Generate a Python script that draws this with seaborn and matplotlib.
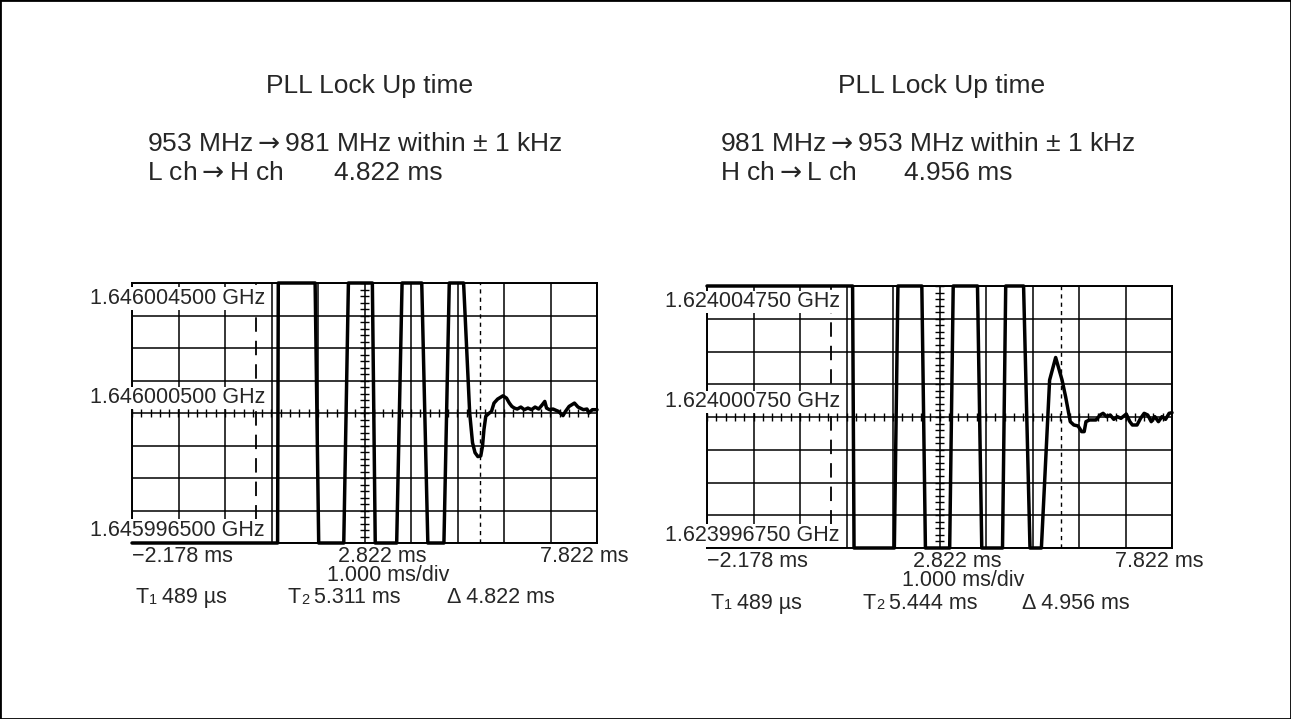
import numpy as np
import pandas as pd
import matplotlib
matplotlib.use('Agg')
import matplotlib.pyplot as plt
from matplotlib.patches import Rectangle
import seaborn as sns

# time in ms, frequency as offset in Hz from the centre line (1 kHz/div)
left_time = [-2.178, 0.953, 0.968, 1.760, 1.837, 2.376, 2.476, 2.991, 3.053, 3.514,
             3.630, 4.053, 4.184, 4.530, 4.645, 4.953, 5.084, 5.145, 5.199, 5.260,
             5.322, 5.360, 5.391, 5.430, 5.492, 5.553, 5.607, 5.684, 5.799, 5.876,
             5.937, 5.991, 6.045, 6.107, 6.184, 6.260, 6.337, 6.414, 6.491, 6.568,
             6.645, 6.699, 6.737, 6.799, 6.876, 6.991, 7.091, 7.145, 7.222, 7.337,
             7.414, 7.530, 7.607, 7.645, 7.722, 7.822]
left_offset = [-4000, -4000, 4000, 4000, -4000, -4000, 4000, 4000, -4000, -4000,
               4000, 4000, -4000, -4000, 4000, 4000, 0, -915, -1220, -1341,
               -1321, -1016, -508, -102, -20, 51, 305, 427, 528, 457,
               305, 203, 152, 122, 183, 102, 152, 102, 183, 122,
               254, 356, 152, 102, 122, 51, -81, 51, 203, 305,
               183, 102, 122, 0, 102, 102]

right_time = [-2.178, 0.953, 0.984, 1.851, 1.928, 2.442, 2.519, 3.041, 3.117, 3.639,
              3.731, 4.177, 4.246, 4.630, 4.768, 5.013, 5.190, 5.320, 5.458, 5.534,
              5.634, 5.711, 5.803, 5.879, 5.933, 5.972, 6.048, 6.186, 6.278, 6.340,
              6.417, 6.494, 6.570, 6.647, 6.724, 6.839, 6.916, 6.970, 7.070, 7.146,
              7.223, 7.300, 7.376, 7.453, 7.530, 7.606, 7.683, 7.760, 7.822]
right_offset = [4000, 4000, -4000, -4000, 4000, 4000, -4000, -4000, 4000, 4000,
                -4000, -4000, 4000, 4000, -4000, -4000, 1127, 1817, 1127, 619,
                -142, -244, -274, -447, -447, -142, -91, -91, 61, 112,
                10, 61, -71, 10, -41, 91, -142, -244, -244, -41,
                112, 61, -142, 10, -142, 10, -71, 112, 132]

left_ylabels = ['1.646004500 GHz', '1.646000500 GHz', '1.645996500 GHz']
right_ylabels = ['1.624004750 GHz', '1.624000750 GHz', '1.623996750 GHz']
xlabels = ['\u22122.178 ms', '2.822 ms', '7.822 ms']
t1 = 0.489
left_t2, right_t2 = 5.311, 5.444
left_delta, right_delta = '4.822 ms', '4.956 ms'

sns.set_style('white')
plt.rcParams['font.family'] = ['Liberation Sans', 'DejaVu Sans']
plt.rcParams['mathtext.fontset'] = 'dejavusans'

fig = plt.figure(figsize=(12.91, 7.19), dpi=100)
fig.patches.append(Rectangle((0, 0), 1, 1, transform=fig.transFigure,
                             fill=False, edgecolor='black', lw=2))

W, H = 1291, 719
ARROW = r'$\rightarrow$'


def ftext(x, y, s, **kw):
    fig.text(x / W, 1 - y / H, s, va='center', fontsize=19, **kw)


def scope(rect, t, f, ylabels, t2, delta):
    ax = fig.add_axes(rect)
    ax.set_xlim(-2.178, 7.822)
    ax.set_ylim(-4000, 4000)
    for x in np.arange(-2.178, 7.9, 1.0):
        ax.axvline(x, color='black', lw=1.1, zorder=1)
    for y in np.arange(-4000, 4001, 1000):
        ax.axhline(y, color='black', lw=1.1, zorder=1)
    # small division marks on the centre cross
    ax.vlines(np.arange(-2.178, 7.83, 0.2), -120, 120, color='black', lw=1.0, zorder=1)
    ax.hlines(np.arange(-4000, 4001, 200), 2.822 - 0.09, 2.822 + 0.09,
              color='black', lw=1.0, zorder=1)
    ax.axvline(t1, color='black', lw=1.3, ls=(0, (8, 5)), zorder=2)
    ax.axvline(t2, color='black', lw=1.0, ls=(0, (3, 3)), zorder=2)
    df = pd.DataFrame({'t': t, 'f': f})
    sns.lineplot(data=df, x='t', y='f', ax=ax, color='black', lw=2.5,
                 estimator=None, sort=False, clip_on=False, zorder=4)
    ax.set_xticks([])
    ax.set_yticks([])
    ax.set_xlabel('')
    ax.set_ylabel('')
    for sp in ax.spines.values():
        sp.set_visible(True)
        sp.set_color('black')
        sp.set_linewidth(1.4)
    tr = ax.transAxes
    fs = 15.5
    for yy, lab in zip([0.94, 0.558, 0.048], ylabels):
        ax.text(-0.09, yy, lab, transform=tr, va='center', ha='left', fontsize=fs,
                zorder=3, bbox=dict(facecolor='white', edgecolor='none', pad=0.5))
    ax.text(0.0, -0.05, xlabels[0], transform=tr, va='center', ha='left', fontsize=fs)
    ax.text(0.442, -0.05, xlabels[1], transform=tr, va='center', ha='left', fontsize=fs)
    ax.text(1.068, -0.05, xlabels[2], transform=tr, va='center', ha='right', fontsize=fs)
    ax.text(0.552, -0.124, '1.000 ms/div', transform=tr, va='center', ha='center', fontsize=fs)
    ax.text(0.008, -0.21, 'T', transform=tr, va='center', ha='left', fontsize=fs)
    ax.annotate('1', (0.008, -0.21), xycoords=tr, xytext=(9.8, -1.5),
                textcoords='offset points', va='center', ha='left', fontsize=10.5)
    ax.text(0.065, -0.21, '489 \u00b5s', transform=tr, va='center', ha='left', fontsize=fs)
    ax.text(0.335, -0.21, 'T', transform=tr, va='center', ha='left', fontsize=fs)
    ax.annotate('2', (0.335, -0.21), xycoords=tr, xytext=(9.8, -1.5),
                textcoords='offset points', va='center', ha='left', fontsize=10.5)
    ax.text(0.392, -0.21, f'{t2:.3f} ms', transform=tr, va='center', ha='left', fontsize=fs)
    ax.text(0.678, -0.21, '\u0394 ' + delta, transform=tr, va='center', ha='left', fontsize=fs)
    return ax


scope([132 / W, 1 - 543 / H, 465 / W, 260 / H], left_time, left_offset,
      left_ylabels, left_t2, left_delta)
scope([707 / W, 1 - 548 / H, 465 / W, 262 / H], right_time, right_offset,
      right_ylabels, right_t2, right_delta)

ftext(370, 86, 'PLL Lock Up time', ha='center')
ftext(147, 144, '953 MHz' + ARROW + '981 MHz within \u00b1 1 kHz', ha='left')
ftext(147, 173, 'L ch' + ARROW + 'H ch', ha='left')
ftext(334, 173, left_delta, ha='left')
ftext(942, 86, 'PLL Lock Up time', ha='center')
ftext(720, 144, '981 MHz' + ARROW + '953 MHz within \u00b1 1 kHz', ha='left')
ftext(720, 173, 'H ch' + ARROW + 'L ch', ha='left')
ftext(904, 173, right_delta, ha='left')

fig.savefig('out.png', dpi=100)
